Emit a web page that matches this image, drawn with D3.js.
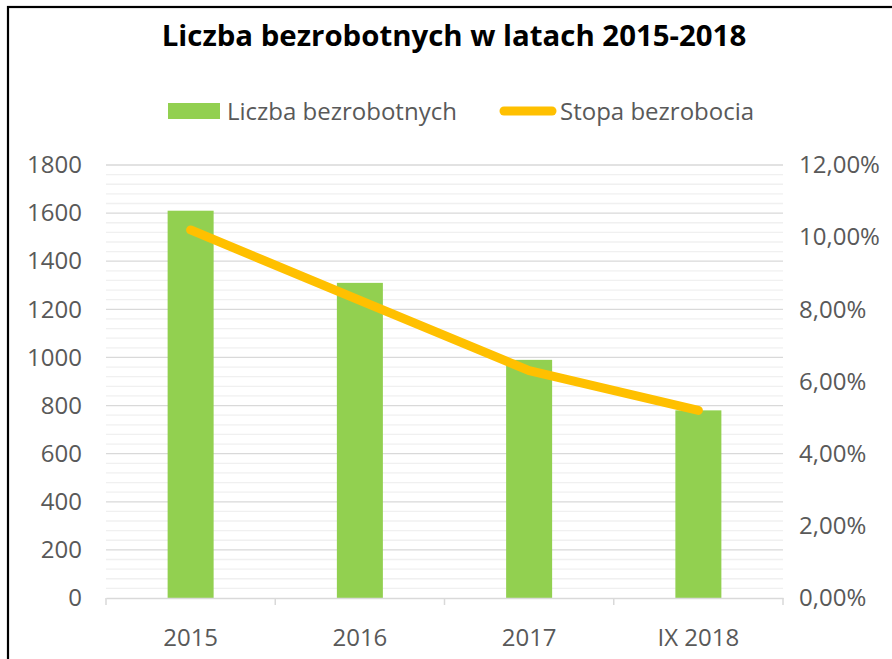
<!DOCTYPE html>
<html><head><meta charset="utf-8">
<script src="https://cdn.jsdelivr.net/npm/d3@7"></script>
<style>body{margin:0;background:#fff}svg{display:block}</style>
</head><body>
<svg id="c" width="892" height="659"></svg>
<script>
const categories = ["2015", "2016", "2017", "IX 2018"];
const unemployed = [1610, 1310, 990, 780];
const rate = [10.2, 8.25, 6.3, 5.2];
const leftTicks = [0, 200, 400, 600, 800, 1000, 1200, 1400, 1600, 1800];
const rightTicks = [0, 2, 4, 6, 8, 10, 12];
const minorStep = 40;
const title = "Liczba bezrobotnych w latach 2015-2018";
const seriesNames = ["Liczba bezrobotnych", "Stopa bezrobocia"];

const svg = d3.select("#c");
const m = {left: 106, right: 783, top: 165, bottom: 598};
const font = "'Open Sans', sans-serif";
const txt = "#595959";
const fs = 24;

svg.append("rect").attr("x", 8).attr("y", 7).attr("width", 900).attr("height", 700)
  .attr("fill", "#fff").attr("stroke", "#000").attr("stroke-width", 2.2);

const x = d3.scaleBand().domain(categories).range([m.left, m.right]).paddingInner(0).paddingOuter(0);
const yL = d3.scaleLinear().domain([0, 1800]).range([m.bottom, m.top]);
const yR = d3.scaleLinear().domain([0, 12]).range([m.bottom, m.top]);

// minor gridlines
const minor = d3.range(0, 1800 + 1, minorStep).filter(v => v % 200 !== 0);
svg.append("g").selectAll("line").data(minor).join("line")
  .attr("x1", m.left).attr("x2", m.right)
  .attr("y1", d => yL(d)).attr("y2", d => yL(d))
  .attr("stroke", "#f0f0f0").attr("stroke-width", 1.3);
// major gridlines
svg.append("g").selectAll("line").data(leftTicks.filter(v => v > 0)).join("line")
  .attr("x1", m.left).attr("x2", m.right)
  .attr("y1", d => yL(d)).attr("y2", d => yL(d))
  .attr("stroke", "#d9d9d9").attr("stroke-width", 1.3);

// bars
const bw = 46;
svg.append("g").selectAll("rect").data(unemployed).join("rect")
  .attr("x", (d, i) => x(categories[i]) + x.bandwidth() / 2 - bw / 2)
  .attr("width", bw)
  .attr("y", d => yL(d))
  .attr("height", d => yL(0) - yL(d))
  .attr("fill", "#92d050");

// x axis
const xa = svg.append("g").attr("transform", `translate(0,${m.bottom})`)
  .call(d3.axisBottom(x).tickSize(0).tickPadding(31));
xa.select(".domain").attr("stroke", "#d9d9d9").attr("stroke-width", 1.5);
xa.selectAll("text").attr("font-family", font).attr("font-size", fs).attr("fill", txt);
const bounds = categories.map(c => x(c)).concat([m.right]);
svg.append("g").selectAll("line").data(bounds).join("line")
  .attr("x1", d => d).attr("x2", d => d).attr("y1", m.bottom).attr("y2", m.bottom + 7)
  .attr("stroke", "#d9d9d9").attr("stroke-width", 1.5);

// left axis
const la = svg.append("g").attr("transform", `translate(${m.left},0)`)
  .call(d3.axisLeft(yL).tickValues(leftTicks).tickSize(0).tickPadding(24).tickFormat(d3.format("d")));
la.select(".domain").remove();
la.selectAll("text").attr("font-family", font).attr("font-size", fs).attr("fill", txt);

// right axis
const ra = svg.append("g").attr("transform", `translate(${m.right},0)`)
  .call(d3.axisRight(yR).tickValues(rightTicks).tickSize(0).tickPadding(16)
    .tickFormat(d => d3.format(".2f")(d).replace(".", ",") + "%"));
ra.select(".domain").remove();
ra.selectAll("text").attr("font-family", font).attr("font-size", fs).attr("fill", txt);

// line
const line = d3.line().x((d, i) => x(categories[i]) + x.bandwidth() / 2).y(d => yR(d));
svg.append("path").datum(rate).attr("d", line)
  .attr("fill", "none").attr("stroke", "#ffc000").attr("stroke-width", 9)
  .attr("stroke-linecap", "round").attr("stroke-linejoin", "round");

// title
svg.append("text").attr("x", 454).attr("y", 46).attr("text-anchor", "middle")
  .attr("font-family", font).attr("font-weight", "bold").attr("font-size", 29.4)
  .attr("fill", "#000").text(title);

// legend
const lg = svg.append("g");
lg.append("rect").attr("x", 168).attr("y", 103).attr("width", 52).attr("height", 16).attr("fill", "#92d050");
lg.append("text").attr("x", 227).attr("y", 119.5).attr("font-family", font).attr("font-size", fs)
  .attr("fill", txt).text(seriesNames[0]);
lg.append("line").attr("x1", 504).attr("x2", 552).attr("y1", 111).attr("y2", 111)
  .attr("stroke", "#ffc000").attr("stroke-width", 9).attr("stroke-linecap", "round");
lg.append("text").attr("x", 560).attr("y", 119.5).attr("font-family", font).attr("font-size", fs)
  .attr("fill", txt).text(seriesNames[1]);
</script>
</body></html>
